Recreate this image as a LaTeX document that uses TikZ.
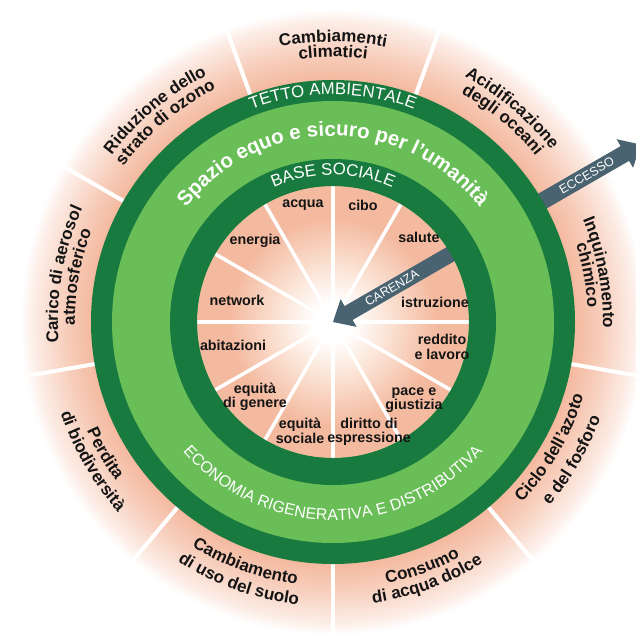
\documentclass[tikz,border=0pt]{standalone}
\usepackage{fontspec}
\setmainfont{Liberation Sans}
\usetikzlibrary{decorations.text}
\definecolor{dkgreen}{RGB}{24,122,62}
\definecolor{ltgreen}{RGB}{106,190,88}
\definecolor{salmon}{RGB}{244,186,160}
\colorlet{salmonA}{salmon!70!white}
\colorlet{salmonB}{salmon!25!white}
\definecolor{peach}{RGB}{251,228,214}
\definecolor{slate}{RGB}{74,99,112}
\definecolor{ink}{RGB}{20,20,20}
\pgfdeclareradialshading{outerglow}{\pgfpointorigin}{color(0bp)=(salmon); color(19.4bp)=(salmon); color(21.5bp)=(salmonA); color(24bp)=(salmonB); color(25bp)=(white); color(50bp)=(white)}
\pgfdeclareradialshading{innerglow}{\pgfpointorigin}{color(0bp)=(white); color(3.5bp)=(white); color(10bp)=(peach); color(19bp)=(salmon); color(25bp)=(salmon); color(50bp)=(salmon)}
\newcommand\lblOut{\color{ink}\bfseries\fontsize{17}{17}\selectfont}
\newcommand\lblCap{\color{white}\fontsize{16.8}{16.8}\selectfont}
\newcommand\lblEco{\color{white}\fontsize{16}{16}\selectfont}
\newcommand\lblSp{\color{white}\bfseries\fontsize{20.5}{20.5}\selectfont}
\newcommand\arcTop[4]{\path[decorate,decoration={text along path,text align=center,text={|#3|#4}}] ({#1+80}:#2pt) arc[start angle={#1+80},end angle={#1-80},radius=#2pt];}
\newcommand\arcBot[4]{\path[decorate,decoration={text along path,text align=center,text={|#3|#4}}] ({#1-80}:#2pt) arc[start angle={#1-80},end angle={#1+80},radius=#2pt];}
\tikzset{
  inlbl/.style={font=\bfseries\fontsize{14.3}{14.5}\selectfont, text=ink, align=center, inner sep=0pt},
  arrlbl/.style={font=\fontsize{12.5}{12.5}\selectfont, text=white, inner sep=0pt},
  divin/.style={white, line width=3.5pt},
  divout/.style={white, line width=4pt}
}
\begin{document}
\begin{tikzpicture}[x=1pt,y=1pt]
\useasboundingbox (-333,-311) rectangle (303,322);
\clip (-333,-311) rectangle (303,322);
% outer ring
\shade[shading=outerglow] (0,0) circle (313pt);
\foreach \a in {70,30,-10,-50,-90,-130,-170,150,110} \draw[divout] (\a:238) -- (\a:312);
% ECCESSO arrow
\begin{scope}[rotate=30]
\fill[slate] (355,0) -- (337,16.5) -- (337,8.5) -- (230,8.5) -- (230,-8.5) -- (337,-8.5) -- (337,-16.5) -- cycle;
\end{scope}
% green rings
\fill[dkgreen] (0,0) circle (242pt);
\fill[ltgreen] (0,0) circle (221pt);
% inner disk
\shade[shading=innerglow] (0,0) circle (136pt);
\foreach \a in {0,30,...,330} \draw[divin] (0,0) -- (\a:136);
% CARENZA arrow
\begin{scope}[rotate=30]
\fill[slate] (0,0) -- (18,16) -- (18,8) -- (150,8) -- (150,-8) -- (18,-8) -- (18,-16) -- cycle;
\end{scope}
\fill[dkgreen, even odd rule] (0,0) circle (163pt) (0,0) circle (136pt);
% arrow labels
\node[arrlbl, rotate=30] (carenza) at (30:68) {CARENZA};
\node[arrlbl, rotate=30] (eccesso) at (30:293) {ECCESSO};
% ring labels
\arcTop{90}{227.5}{\lblCap}{TETTO AMBIENTALE}
\arcTop{90}{147}{\lblCap}{BASE SOCIALE}
\arcTop{90}{186}{\lblSp}{Spazio equo e sicuro per l’umanità}
\arcBot{-90}{198}{\lblEco}{ECONOMIA RIGENERATIVA E DISTRIBUTIVA}
% outer labels
\arcTop{90}{280}{\lblOut}{Cambiamenti}
\arcTop{90}{265}{\lblOut}{climatici}
\arcTop{50}{278}{\lblOut}{Acidificazione}
\arcTop{50}{262}{\lblOut}{degli oceani}
\arcTop{10.5}{270}{\lblOut}{Inquinamento}
\arcTop{10.5}{255}{\lblOut}{chimico}
\arcBot{-30}{261}{\lblOut}{Ciclo dell’azoto}
\arcBot{-30}{284}{\lblOut}{e del fosforo}
\arcBot{-70}{267}{\lblOut}{Consumo}
\arcBot{-70}{284}{\lblOut}{di acqua dolce}
\arcBot{-110}{265}{\lblOut}{Cambiamento}
\arcBot{-110}{285}{\lblOut}{di uso del suolo}
\arcBot{-150}{269}{\lblOut}{Perdita}
\arcBot{-150}{287}{\lblOut}{di biodiversità}
\arcTop{170}{275}{\lblOut}{Carico di aerosol}
\arcTop{170}{258}{\lblOut}{atmosferico}
\arcTop{130}{277}{\lblOut}{Riduzione dello}
\arcTop{130}{261}{\lblOut}{strato di ozono}
% inner labels
\node[inlbl] (acqua) at (-30,117) {acqua};
\node[inlbl] (cibo) at (30,117) {cibo};
\node[inlbl] (salute) at (86,85) {salute};
\node[inlbl] (istruzione) at (102,20) {istruzione};
\node[inlbl] (reddito) at (109,-25) {reddito\\e lavoro};
\node[inlbl] (pace) at (81,-78) {pace e\\giustizia};
\node[inlbl] (diritto) at (36,-110) {diritto di\\espressione};
\node[inlbl] (eqsoc) at (-33,-109) {equità\\sociale};
\node[inlbl] (eqgen) at (-78,-75) {equità\\di genere};
\node[inlbl] (abitazioni) at (-100,-23) {abitazioni};
\node[inlbl] (network) at (-96,22) {network};
\node[inlbl] (energia) at (-78,81) {energia};
\end{tikzpicture}
\end{document}
